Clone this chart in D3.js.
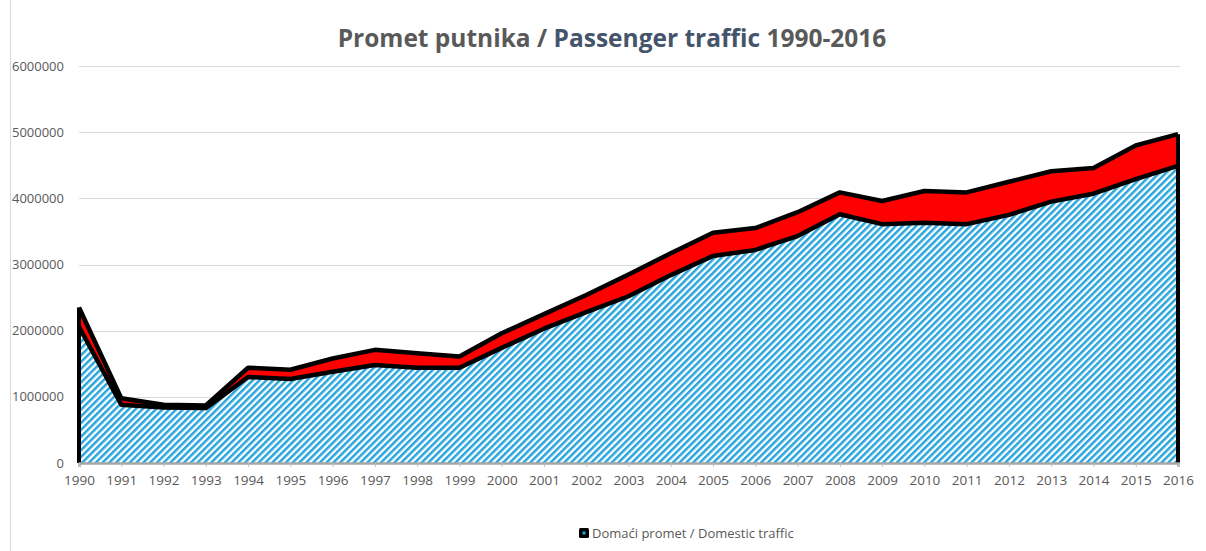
<!DOCTYPE html>
<html lang="hr">
<head>
<meta charset="UTF-8">
<title>Promet putnika / Passenger traffic 1990-2016</title>
<style>
    body { margin: 0; background: #ffffff; font-family: 'Open Sans', 'Liberation Sans', sans-serif; }
    svg { display: block; }
</style>
</head>
<body>
<div id="chart"></div>
<script src="https://d3js.org/d3.v7.min.js"></script>
<script>
// data (passengers)
var years = [1990, 1991, 1992, 1993, 1994, 1995, 1996, 1997, 1998, 1999, 2000, 2001, 2002,
             2003, 2004, 2005, 2006, 2007, 2008, 2009, 2010, 2011, 2012, 2013, 2014, 2015, 2016];
var domestic = [2060000, 880000, 840000, 830000, 1300000, 1270000, 1380000, 1480000, 1440000,
                1440000, 1740000, 2030000, 2280000, 2520000, 2840000, 3130000, 3220000, 3430000,
                3760000, 3610000, 3630000, 3610000, 3750000, 3950000, 4070000, 4290000, 4490000];
var international = [290000, 100000, 40000, 40000, 140000, 140000, 200000, 230000, 220000,
                     170000, 220000, 220000, 260000, 330000, 330000, 350000, 330000, 360000,
                     330000, 350000, 480000, 480000, 500000, 460000, 390000, 510000, 480000];
var yTicks = [0, 1000000, 2000000, 3000000, 4000000, 5000000, 6000000];
var legendLabel = "Domaći promet / Domestic traffic";

var w = 1206, h = 551;
var margin = { left: 79, right: 28, top: 66, bottom: 88 };

var svg = d3.select("#chart").append("svg")
    .attr("width", w)
    .attr("height", h);

// hatch pattern for domestic traffic
var defs = svg.append("defs");
var pat = defs.append("pattern")
    .attr("id", "hatch")
    .attr("patternUnits", "userSpaceOnUse")
    .attr("width", 4.8)
    .attr("height", 4.8)
    .attr("patternTransform", "rotate(45)");
pat.append("rect").attr("width", 4.8).attr("height", 4.8).attr("fill", "#ffffff");
pat.append("rect").attr("width", 2.5).attr("height", 4.8).attr("fill", "#29a5dc");

var rows = years.map(function(y, i) {
    return { year: y, domestic: domestic[i], international: international[i] };
});

var x = d3.scaleLinear()
    .domain([years[0], years[years.length - 1]])
    .range([margin.left, w - margin.right]);

var y = d3.scaleLinear()
    .domain([0, 6000000])
    .range([h - margin.bottom, margin.top]);

// left frame line
svg.append("line")
    .attr("x1", 10.5).attr("x2", 10.5)
    .attr("y1", 0).attr("y2", h)
    .attr("stroke", "#d9d9d9");

// title
var title = svg.append("text")
    .attr("x", 612)
    .attr("y", 47)
    .attr("text-anchor", "middle")
    .attr("font-size", 24.5)
    .attr("font-weight", "bold")
    .attr("fill", "#595959");
title.append("tspan").text("Promet putnika / ");
title.append("tspan").attr("fill", "#44546a").text("Passenger traffic");
title.append("tspan").text(" 1990-2016");

// gridlines
svg.append("g").selectAll("line")
    .data(yTicks.slice(1))
    .enter().append("line")
    .attr("x1", margin.left).attr("x2", w - margin.right + 2)
    .attr("y1", function(d) { return Math.round(y(d)) + 0.5; })
    .attr("y2", function(d) { return Math.round(y(d)) + 0.5; })
    .attr("stroke", "#d9d9d9");

// y axis labels
svg.append("g").selectAll("text")
    .data(yTicks)
    .enter().append("text")
    .attr("x", 64)
    .attr("y", function(d) { return y(d); })
    .attr("dy", "0.35em")
    .attr("text-anchor", "end")
    .attr("font-size", 13)
    .attr("fill", "#595959")
    .text(function(d) { return d; });

// stacked areas
var stack = d3.stack().keys(["domestic", "international"]);
var layers = stack(rows);
var fills = { domestic: "url(#hatch)", international: "#ff0000" };

var area = d3.area()
    .x(function(d) { return x(d.data.year); })
    .y0(function(d) { return y(d[0]); })
    .y1(function(d) { return y(d[1]); });

svg.append("g").selectAll("path")
    .data(layers)
    .enter().append("path")
    .attr("d", area)
    .attr("fill", function(d) { return fills[d.key]; });

// black outlines: top of each layer plus the two side edges
var topLine = d3.line()
    .x(function(d) { return x(d.data.year); })
    .y(function(d) { return y(d[1]); });

svg.append("g").selectAll("path")
    .data(layers)
    .enter().append("path")
    .attr("d", function(d) { return topLine(d); })
    .attr("fill", "none")
    .attr("stroke", "#000")
    .attr("stroke-width", 4.5)
    .attr("stroke-linejoin", "round");

var last = layers[1][layers[1].length - 1];
var first = layers[1][0];
svg.append("g").selectAll("line")
    .data([first, last])
    .enter().append("line")
    .attr("x1", function(d) { return x(d.data.year); })
    .attr("x2", function(d) { return x(d.data.year); })
    .attr("y1", y(0))
    .attr("y2", function(d) { return y(d[1]); })
    .attr("stroke", "#000")
    .attr("stroke-width", 4);

// x axis
var xAxis = svg.append("g")
    .attr("transform", "translate(0," + y(0) + ")")
    .call(d3.axisBottom(x)
        .tickValues(years)
        .tickFormat(d3.format("d"))
        .tickSize(4)
        .tickPadding(8));
xAxis.select(".domain").attr("stroke", "#a6a6a6").attr("stroke-width", 2.5);
xAxis.selectAll(".tick line").attr("stroke", "#bfbfbf");
xAxis.selectAll(".tick text")
    .attr("font-size", 13.5)
    .attr("font-family", "'Open Sans', 'Liberation Sans', sans-serif")
    .attr("fill", "#595959");

// legend
var legend = svg.append("g").attr("transform", "translate(579,528)");
legend.append("rect")
    .attr("width", 10).attr("height", 10).attr("rx", 1.5)
    .attr("fill", "#000");
legend.append("rect")
    .attr("x", 3.5).attr("y", 3.5).attr("width", 3).attr("height", 3)
    .attr("fill", "#29a5dc");
legend.append("text")
    .attr("x", 13)
    .attr("y", 5)
    .attr("dy", "0.35em")
    .attr("font-size", 13)
    .attr("fill", "#595959")
    .text(legendLabel);
</script>
</body>
</html>
